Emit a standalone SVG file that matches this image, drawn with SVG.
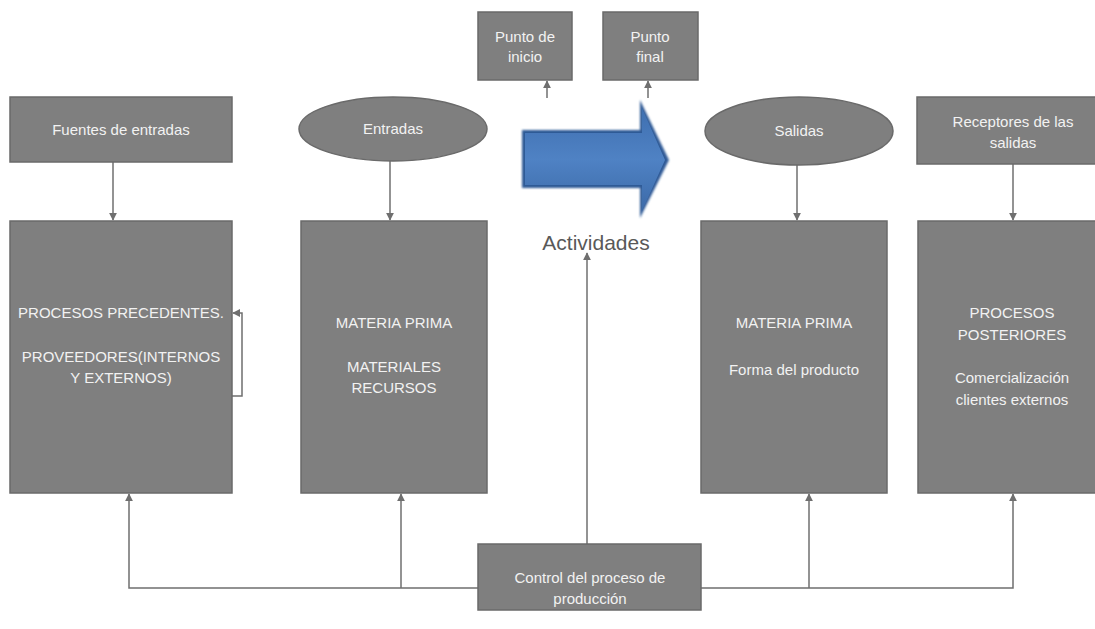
<svg xmlns="http://www.w3.org/2000/svg" width="1095" height="629" viewBox="0 0 1095 629">
<defs>
<style>
.box{fill:#7f7f7f;stroke:#6a6a6a;stroke-width:1.5}
.t{font-family:"Liberation Sans",Arial,sans-serif;font-size:15px;fill:#f2f2f2;text-anchor:middle}
.c{fill:none;stroke:#6f6f6f;stroke-width:1.5}
</style>
<marker id="ah" viewBox="0 0 10 10" refX="9" refY="5" markerWidth="8" markerHeight="8" markerUnits="userSpaceOnUse" orient="auto">
<path d="M0,0 L10,5 L0,10 z" fill="#6f6f6f"/>
</marker>
<linearGradient id="bg" x1="0" y1="0" x2="0" y2="1">
<stop offset="0" stop-color="#3f6fb0"/>
<stop offset="0.5" stop-color="#4f82c4"/>
<stop offset="1" stop-color="#3c6aa8"/>
</linearGradient>
<filter id="blur" x="-10%" y="-10%" width="120%" height="120%"><feGaussianBlur stdDeviation="1.2"/></filter>
</defs>
<rect width="1095" height="629" fill="#ffffff"/>

<g id="connectors">
<line class="c" x1="113" y1="162" x2="113" y2="220" marker-end="url(#ah)"/>
<line class="c" x1="390" y1="161" x2="390" y2="220" marker-end="url(#ah)"/>
<line class="c" x1="797" y1="165" x2="797" y2="220" marker-end="url(#ah)"/>
<line class="c" x1="1013" y1="164" x2="1013" y2="220" marker-end="url(#ah)"/>
<line class="c" x1="547" y1="98" x2="547" y2="81" marker-end="url(#ah)"/>
<line class="c" x1="648" y1="98" x2="648" y2="81" marker-end="url(#ah)"/>
<polyline class="c" points="232,396 242,396 242,313 233,313" marker-end="url(#ah)"/>
<polyline class="c" points="478,588 129,588 129,494" marker-end="url(#ah)"/>
<line class="c" x1="401" y1="588" x2="401" y2="494" marker-end="url(#ah)"/>
<polyline class="c" points="701,588 1013,588 1013,494" marker-end="url(#ah)"/>
<line class="c" x1="809" y1="588" x2="809" y2="494" marker-end="url(#ah)"/>
<line class="c" x1="587" y1="544" x2="587" y2="253" marker-end="url(#ah)"/>
</g>

<g id="fuentes">
<rect class="box" x="10" y="97" width="222" height="65"/>
<text class="t" x="121" y="135">Fuentes de entradas</text>
</g>
<g id="entradas">
<ellipse class="box" cx="393" cy="129" rx="94" ry="32"/>
<text class="t" x="393" y="134">Entradas</text>
</g>
<g id="punto-inicio">
<rect class="box" x="478" y="12" width="94" height="68"/>
<text class="t" x="525" y="42">Punto de</text>
<text class="t" x="525" y="62">inicio</text>
</g>
<g id="punto-final">
<rect class="box" x="603" y="12" width="95" height="68"/>
<text class="t" x="650" y="42">Punto</text>
<text class="t" x="650" y="62">final</text>
</g>
<g id="actividades">
<polygon points="522,130 640,130 640,100 669,160 640,218 640,188 522,188" fill="#2f5a96" filter="url(#blur)"/>
<polygon points="525,133 642,133 642,108 665,160 642,211 642,185 525,185" fill="url(#bg)"/>
<text x="596" y="250" font-family="'Liberation Sans',Arial,sans-serif" font-size="21" fill="#595959" text-anchor="middle">Actividades</text>
</g>
<g id="salidas">
<ellipse class="box" cx="799" cy="131" rx="94" ry="34"/>
<text class="t" x="799" y="136">Salidas</text>
</g>
<g id="receptores">
<rect class="box" x="917" y="97" width="192" height="67"/>
<text class="t" x="1013" y="127">Receptores de las</text>
<text class="t" x="1013" y="148">salidas</text>
</g>

<g id="procesos-precedentes">
<rect class="box" x="10" y="221" width="222" height="272"/>
<text class="t" x="121" y="318">PROCESOS PRECEDENTES.</text>
<text class="t" x="121" y="362">PROVEEDORES(INTERNOS</text>
<text class="t" x="121" y="383">Y EXTERNOS)</text>
</g>
<g id="materia-prima-entrada">
<rect class="box" x="301" y="221" width="186" height="272"/>
<text class="t" x="394" y="328">MATERIA PRIMA</text>
<text class="t" x="394" y="372">MATERIALES</text>
<text class="t" x="394" y="393">RECURSOS</text>
</g>
<g id="materia-prima-salida">
<rect class="box" x="701" y="221" width="186" height="272"/>
<text class="t" x="794" y="328">MATERIA PRIMA</text>
<text class="t" x="794" y="375">Forma del producto</text>
</g>
<g id="procesos-posteriores">
<rect class="box" x="918" y="221" width="192" height="272"/>
<text class="t" x="1012" y="318">PROCESOS</text>
<text class="t" x="1012" y="340">POSTERIORES</text>
<text class="t" x="1012" y="383">Comercialización</text>
<text class="t" x="1012" y="405">clientes externos</text>
</g>
<g id="control">
<rect class="box" x="478" y="544" width="223" height="66"/>
<text class="t" x="590" y="583">Control del proceso de</text>
<text class="t" x="590" y="604">producción</text>
</g>
</svg>
